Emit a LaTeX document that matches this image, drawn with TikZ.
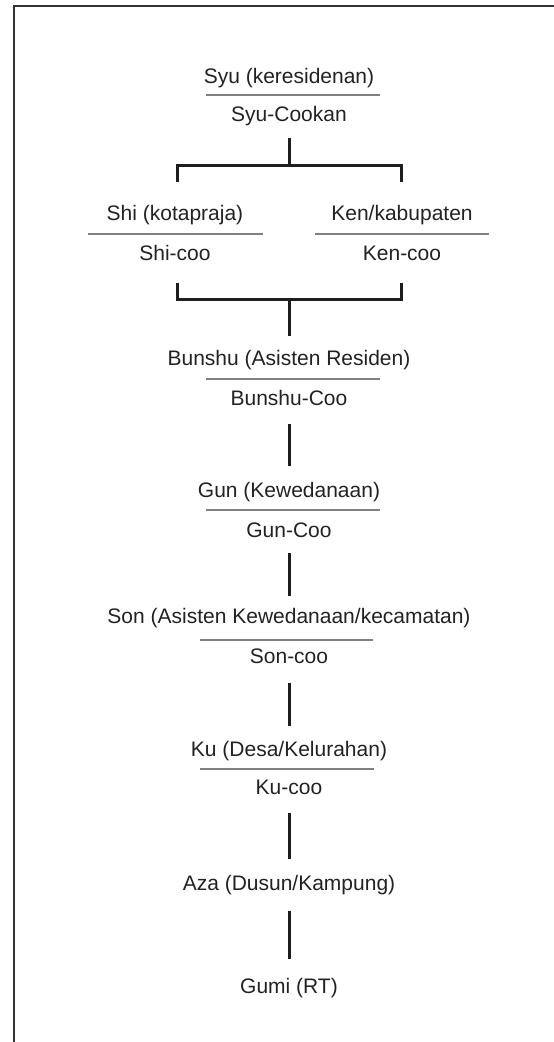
\documentclass[tikz,border=0pt]{standalone}
\usepackage{fontspec}
\setmainfont{Liberation Sans}
\usetikzlibrary{calc}
\definecolor{txt}{HTML}{222222}
\definecolor{rulec}{HTML}{808080}
\definecolor{conn}{HTML}{1E1E1E}
\definecolor{framec}{HTML}{333333}
\begin{document}
\begin{tikzpicture}[x=1pt,y=-1pt,
  lbl/.style={font=\fontsize{21}{25}\selectfont, text=txt, inner sep=0pt, text height=15.3pt, text depth=4.4pt, anchor=center},
  sepline/.style={draw=rulec, line width=1.3pt},
  link/.style={draw=conn, line width=3pt},
  frameline/.style={draw=framec, line width=2pt}]
\useasboundingbox (0,0) rectangle (554,1042);
\draw[frameline] (14,1042) -- (14,6) -- (554,6);

% level 1
\node[lbl] (syu) at (289,78) {Syu (keresidenan)};
\draw[sepline] (206,95) -- (380,95);
\node[lbl] (syucoo) at (289,116) {Syu-Cookan};

% level 2
\node[lbl] (shi) at (175,215) {Shi (kotapraja)};
\draw[sepline] (88,234) -- (263,234);
\node[lbl] (shicoo) at (175,255) {Shi-coo};
\node[lbl] (ken) at (402,215) {Ken/kabupaten};
\draw[sepline] (315,234) -- (489,234);
\node[lbl] (kencoo) at (402,255) {Ken-coo};

% level 3
\node[lbl] (bunshu) at (289,360) {Bunshu (Asisten Residen)};
\draw[sepline] (206,379) -- (380,379);
\node[lbl] (bunshucoo) at (289,400) {Bunshu-Coo};

\node[lbl] (gun) at (289,492) {Gun (Kewedanaan)};
\draw[sepline] (206,510) -- (380,510);
\node[lbl] (guncoo) at (289,532) {Gun-Coo};

\node[lbl] (son) at (289,618) {Son (Asisten Kewedanaan/kecamatan)};
\draw[sepline] (200,640) -- (373,640);
\node[lbl] (soncoo) at (289,658) {Son-coo};

\node[lbl] (ku) at (289,751) {Ku (Desa/Kelurahan)};
\draw[sepline] (200,769) -- (374,769);
\node[lbl] (kucoo) at (289,789) {Ku-coo};

\node[lbl] (aza) at (289,885) {Aza (Dusun/Kampung)};
\node[lbl] (gumi) at (289,988) {Gumi (RT)};

% connectors
\coordinate (t1) at (289,165);
\coordinate (tl) at (177,182);
\coordinate (tr) at (401,182);
\draw[link] ($(syucoo)+(0,22)$) -- (t1);
\draw[link] (tl) |- (t1) -| (tr);

\coordinate (bl) at (177,283);
\coordinate (br) at (401,283);
\coordinate (b1) at (289,299);
\draw[link] (bl) |- (b1) -| (br);
\draw[link] (b1) -- ($(bunshu)+(0,-24)$);

\draw[link] ($(bunshucoo)+(0,24)$) -- ($(gun)+(0,-26)$);
\draw[link] ($(guncoo)+(0,21)$) -- ($(son)+(0,-22)$);
\draw[link] ($(soncoo)+(0,25)$) -- ($(ku)+(0,-25)$);
\draw[link] ($(kucoo)+(0,24)$) -- ($(aza)+(0,-26)$);
\draw[link] ($(aza)+(0,26)$) -- ($(gumi)+(0,-29)$);
\end{tikzpicture}
\end{document}
